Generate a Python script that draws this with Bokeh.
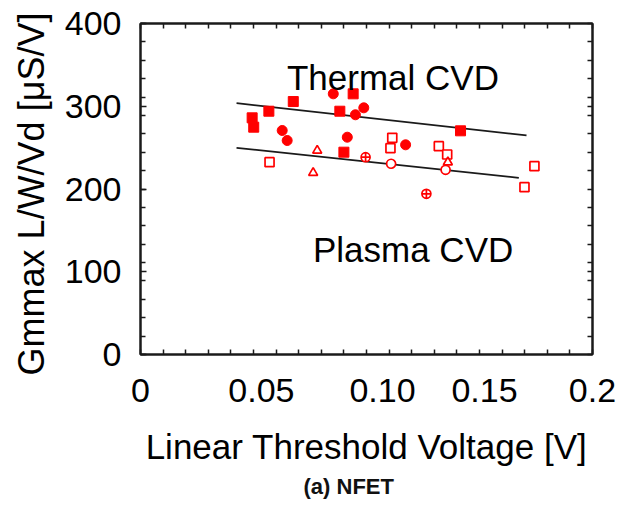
from bokeh.plotting import figure
from bokeh.models import (ColumnDataSource, Range1d, FixedTicker, LinearAxis, Label, Title)
from bokeh.embed import file_html
from bokeh.resources import INLINE

# ---- data ----
thermal_x = [0.0494, 0.0501, 0.0568, 0.0676, 0.0627, 0.0649, 0.0853, 0.0882,
             0.0915, 0.0900, 0.0941, 0.0988, 0.0951, 0.1173, 0.1416]
thermal_y = [286.0, 274.7, 294.0, 305.7, 270.7, 258.6, 315.0, 294.0,
             262.6, 244.5, 315.0, 298.1, 289.7, 253.4, 270.3]
thermal_m = ["square", "square", "square", "square", "circle", "circle", "circle", "square",
             "circle", "square", "square", "circle", "circle", "circle", "square"]

plasma_x = [0.0571, 0.0764, 0.0782, 0.0996, 0.1109, 0.1106, 0.1114, 0.1320,
            0.1357, 0.1360, 0.1350, 0.1265, 0.1699, 0.1743]
plasma_y = [232.4, 219.6, 246.5, 238.4, 230.5, 249.3, 261.9, 251.7,
            241.7, 232.4, 223.2, 194.2, 202.2, 227.6]
plasma_m = ["square", "triangle", "triangle", "circle_cross", "circle", "square", "square", "square",
            "square", "triangle", "circle", "circle_cross", "square", "square"]

thermal_fit_x = [0.0425, 0.1708]
thermal_fit_y = [303.7, 264.7]
plasma_fit_x = [0.0425, 0.1674]
plasma_fit_y = [249.8, 213.5]

x_tick_labels = ["0", "0.05", "0.10", "0.15", "0.2"]
x_label_pos = [0.0, 0.0535, 0.1071, 0.1522, 0.2]
y_ticks = [0, 100, 200, 300, 400]

RED = "#ff0000"
INK = "#1a1a1a"
FONT = "Liberation Sans"

p = figure(width=624, height=513, output_backend="svg", toolbar_location=None,
           x_range=Range1d(0, 0.2), y_range=Range1d(0, 400),
           min_border_left=140, min_border_right=32, min_border_top=23, min_border_bottom=159)
p.grid.visible = False
p.outline_line_color = INK
p.outline_line_width = 2
p.background_fill_color = "white"
p.border_fill_color = "white"

# fit lines
p.line(thermal_fit_x, thermal_fit_y, line_color=INK, line_width=1.8)
p.line(plasma_fit_x, plasma_fit_y, line_color=INK, line_width=1.8)

# points
src_t = ColumnDataSource(dict(x=thermal_x, y=thermal_y, m=thermal_m))
src_p = ColumnDataSource(dict(x=plasma_x, y=plasma_y, m=plasma_m))
p.scatter("x", "y", marker="m", source=src_t, size=10, fill_color=RED, line_color=RED, line_width=1)
p.scatter("x", "y", marker="m", source=src_p, size=9, fill_color="white", line_color=RED, line_width=1.7)

# annotations
p.add_layout(Label(x=0.0648, y=335, text="Thermal CVD", text_font=FONT, text_font_size="35px",
                   text_color="black", text_baseline="alphabetic"))
p.add_layout(Label(x=0.0763, y=127, text="Plasma CVD", text_font=FONT, text_font_size="35px",
                   text_color="black", text_baseline="alphabetic"))

# bottom axis
xa = p.xaxis[0]
xa.ticker = FixedTicker(ticks=x_label_pos, minor_ticks=[i / 100 for i in range(21)])
xa.major_label_overrides = {v: t for v, t in zip(x_label_pos, x_tick_labels)}
xa.major_tick_line_color = None
xa.minor_tick_in = 5
xa.minor_tick_out = 0
xa.minor_tick_line_color = INK
xa.minor_tick_line_width = 1.5
xa.axis_line_color = INK
xa.axis_line_width = 2
xa.major_label_text_font = FONT
xa.major_label_text_font_size = "34px"
xa.major_label_text_color = "black"
xa.major_label_standoff = 18
xa.axis_label = "Linear Threshold Voltage [V]"
xa.axis_label_text_font = FONT
xa.axis_label_text_font_size = "35px"
xa.axis_label_text_font_style = "normal"
xa.axis_label_text_color = "black"
xa.axis_label_standoff = 22

# left axis
ya = p.yaxis[0]
ya.ticker = FixedTicker(ticks=y_ticks, minor_ticks=[i * 400 / 18 for i in range(19)])
ya.major_tick_in = 6
ya.major_tick_out = 0
ya.minor_tick_in = 5
ya.minor_tick_out = 0
ya.major_tick_line_color = INK
ya.minor_tick_line_color = INK
ya.major_tick_line_width = 1.5
ya.minor_tick_line_width = 1.5
ya.axis_line_color = INK
ya.axis_line_width = 2
ya.major_label_text_font = FONT
ya.major_label_text_font_size = "34px"
ya.major_label_text_color = "black"
ya.major_label_standoff = 19
ya.axis_label = "Gmmax L/W/Vd  [\u03bcS/V]"
ya.axis_label_text_font = FONT
ya.axis_label_text_font_size = "36px"
ya.axis_label_text_font_style = "normal"
ya.axis_label_text_color = "black"
ya.axis_label_standoff = 10

# top and right tick-only axes (no labels)
top = LinearAxis(ticker=FixedTicker(ticks=[], minor_ticks=[i / 100 for i in range(21)]))
right = LinearAxis(ticker=FixedTicker(ticks=[], minor_ticks=sorted(set([i * 400 / 18 for i in range(19)] + [100, 200, 300]))))
for ax in (top, right):
    ax.major_label_standoff = 0
    ax.major_tick_in = 0
    ax.major_tick_out = 0
    ax.minor_tick_in = 5
    ax.minor_tick_out = 0
    ax.minor_tick_line_color = INK
    ax.minor_tick_line_width = 1.5
    ax.axis_line_color = INK
    ax.axis_line_width = 2
p.add_layout(top, "above")
p.add_layout(right, "right")

# caption
cap = Title(text="(a) NFET", align="left", text_font=FONT, text_font_size="22px",
            text_font_style="bold", text_color="#111111", offset=163, standoff=6)
p.add_layout(cap, "below")

open("out.html", "w").write(file_html(p, INLINE))
